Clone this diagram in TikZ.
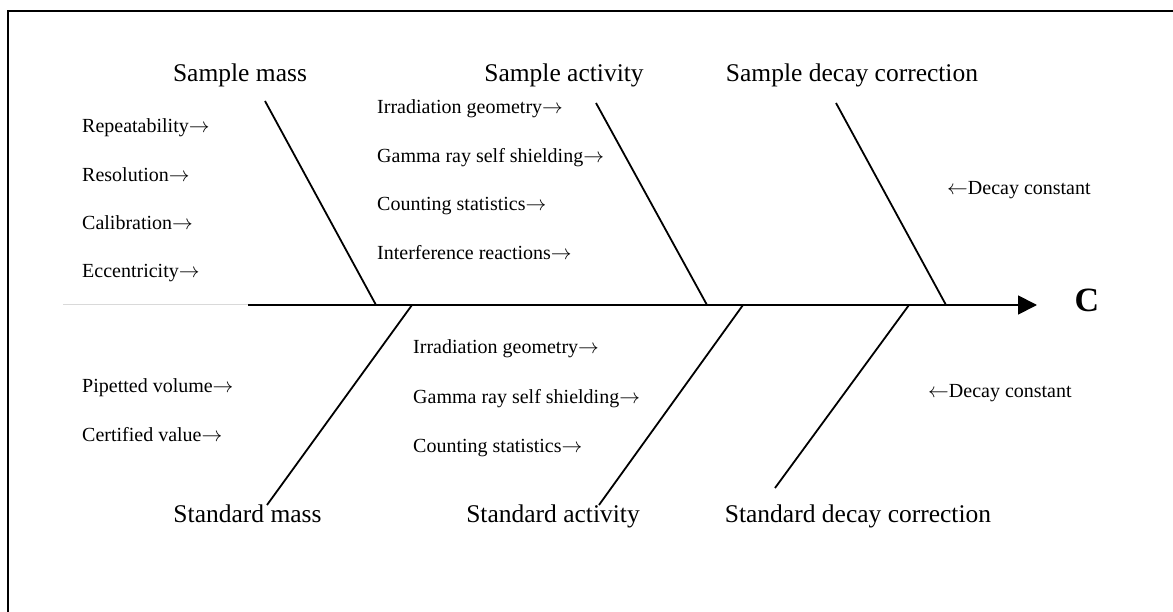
\documentclass[tikz,border=0pt]{standalone}
\usepackage{fontspec}
\setmainfont{Liberation Serif}
\usetikzlibrary{arrows.meta}
\newcommand{\ra}{$\rightarrow$}
\newcommand{\la}{$\leftarrow$}
\begin{document}
\begin{tikzpicture}[x=1pt,y=-1pt,
  big/.style={font=\fontsize{25.5}{30}\selectfont, inner sep=0pt, anchor=base},
  small/.style={font=\fontsize{20}{24}\selectfont, inner sep=0pt, anchor=base west},
  bone/.style={line width=1.8pt},
  spine/.style={line width=1.8pt, -{Triangle[length=19pt,width=19pt]}}]
\useasboundingbox (0,0) rectangle (1173,612);
% frame
\draw[line width=2.5pt] (8,612) -- (8,11) -- (1173,11);
% spine
\coordinate (sL) at (63,305);
\coordinate (sB) at (248,305);
\coordinate (sE) at (1037,305);
\draw[gray!30, line width=1pt] (sL) -- (sB);
\draw[spine] (sB) -- (sE);
\node[font=\fontsize{34}{40}\selectfont\bfseries, inner sep=0pt, anchor=base] (C) at (1087,312) {C};
% bone coordinates
\coordinate (a1) at (265,101); \coordinate (a2) at (376,305);
\coordinate (b1) at (596,103); \coordinate (b2) at (707,305);
\coordinate (c1) at (836,103); \coordinate (c2) at (946,305);
\coordinate (d1) at (412,305); \coordinate (d2) at (267,505);
\coordinate (e1) at (743,305); \coordinate (e2) at (599,505);
\coordinate (f1) at (909,305); \coordinate (f2) at (775,488);
\draw[bone] (a1) -- (a2);
\draw[bone] (b1) -- (b2);
\draw[bone] (c1) -- (c2);
\draw[bone] (d1) -- (d2);
\draw[bone] (e1) -- (e2);
\draw[bone] (f1) -- (f2);
% category labels
\node[big] (smass) at (240,82) {Sample mass};
\node[big] (sact) at (564,82) {Sample activity};
\node[big] (sdec) at (852,82) {Sample decay correction};
\node[big] (stmass) at (247.5,522) {Standard mass};
\node[big] (stact) at (553,522) {Standard activity};
\node[big] (stdec) at (858,522) {Standard decay correction};
% causes
\node[small] (r1) at (82,133) {Repeatability\ra};
\node[small] (r2) at (82,182) {Resolution\ra};
\node[small] (r3) at (82,230) {Calibration\ra};
\node[small] (r4) at (82,278) {Eccentricity\ra};
\node[small] (m1) at (377,114) {Irradiation geometry\ra};
\node[small] (m2) at (377,163) {Gamma ray self shielding\ra};
\node[small] (m3) at (377,211) {Counting statistics\ra};
\node[small] (m4) at (377,260) {Interference reactions\ra};
\node[small] (n1) at (413,354) {Irradiation geometry\ra};
\node[small] (n2) at (413,403) {Gamma ray self shielding\ra};
\node[small] (n3) at (413,452) {Counting statistics\ra};
\node[small] (p1) at (82,392) {Pipetted volume\ra};
\node[small] (p2) at (82,441) {Certified value\ra};
\node[small] (dc1) at (947,195) {\la Decay constant};
\node[small] (dc2) at (928,397) {\la Decay constant};
\end{tikzpicture}
\end{document}
